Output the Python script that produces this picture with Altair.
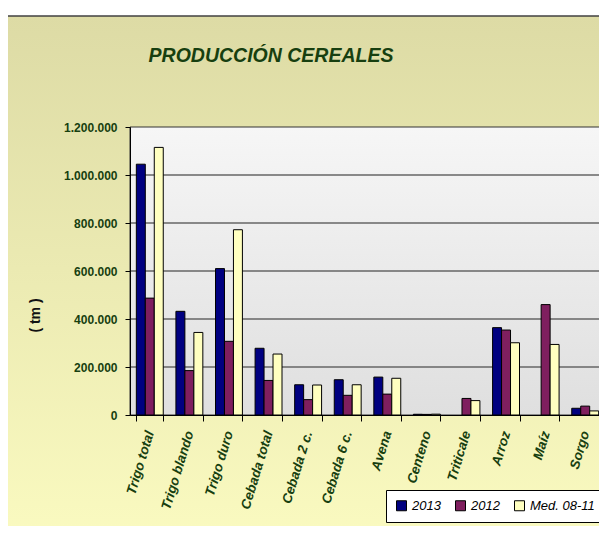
import altair as alt
import pandas as pd

categories = ["Trigo total", "Trigo blando", "Trigo duro", "Cebada total", "Cebada 2 c.",
              "Cebada 6 c.", "Avena", "Centeno", "Triticale", "Arroz", "Maíz", "Sorgo"]
series = ["2013", "2012", "Med. 08-11"]
v2013 = [1045000, 432000, 610000, 278000, 126000, 147000, 158000, 3000, 0, 364000, 0, 28000]
v2012 = [487000, 185000, 307000, 144000, 64000, 82000, 87000, 2500, 69000, 354000, 460000, 37000]
vmed = [1115000, 344000, 772000, 254000, 125000, 126000, 153000, 3500, 60000, 301000, 294000, 17000]
colors = ["#000080", "#7F1F5F", "#FFFFC0"]
y_ticks = [0, 200000, 400000, 600000, 800000, 1000000, 1200000]
title_text = "PRODUCCIÓN CEREALES"
y_title = "( tm )"

rows = []
for i, c in enumerate(categories):
    for s, vals in zip(series, [v2013, v2012, vmed]):
        rows.append({"cat": c, "serie": s, "value": vals[i]})
df = pd.DataFrame(rows)
grid_df = pd.DataFrame({"v": y_ticks[1:-1]})
one = pd.DataFrame({"k": [0]})

W, H = 475, 288
PAD_L, PAD_T = 122, 119
SVG_W, SVG_H = 591, 518
GREEN = "#173f10"
FONT = "Liberation Sans"
ydom = [0, 1200000]

yaxis = alt.Axis(values=y_ticks,
                 labelExpr="replace(format(datum.value, ','), regexp(',', 'g'), '.')",
                 title=y_title, titleFont=FONT, titleFontSize=14, titleFontWeight="bold",
                 titleColor="#111111", titleX=-95, titleY=188, titleAngle=270,
                 titleBaseline="middle", titleAlign="center",
                 labelFont=FONT, labelFontSize=12, labelFontWeight="bold",
                 labelColor=GREEN, tickSize=5, labelPadding=8,
                 domainColor="black", tickColor="black", grid=False, zindex=1)
yscale = alt.Scale(domain=ydom, nice=False)

outer_bg = alt.Chart(one).mark_rect(
    fill=alt.Gradient(gradient="linear", x1=0, x2=0, y1=0, y2=1,
                      stops=[alt.GradientStop(color="#DDDBA5", offset=0),
                             alt.GradientStop(color="#FAFAC0", offset=1)])
).encode(x=alt.value(-125), x2=alt.value(480), y=alt.value(-111), y2=alt.value(412))

topline = alt.Chart(one).mark_rule(color="#404040", strokeWidth=1.5).encode(
    x=alt.value(-125), x2=alt.value(480), y=alt.value(-111))

plot_bg = alt.Chart(one).mark_rect(
    fill=alt.Gradient(gradient="linear", x1=0, x2=0, y1=0, y2=1,
                      stops=[alt.GradientStop(color="#F6F6F6", offset=0),
                             alt.GradientStop(color="#DFDFDF", offset=1)]),
    stroke="#333333", strokeWidth=1
).encode(x=alt.value(0), x2=alt.value(W), y=alt.value(0), y2=alt.value(H))

grid = alt.Chart(grid_df).mark_rule(color="#666666", strokeWidth=1.5).encode(
    y=alt.Y("v:Q", scale=yscale, axis=yaxis),
    x=alt.value(0), x2=alt.value(W))

bars = alt.Chart(df).transform_filter("datum.value > 0").mark_bar(
    stroke="black", strokeWidth=1
).encode(
    x=alt.X("cat:N", sort=categories,
            scale=alt.Scale(paddingInner=0.32, paddingOuter=0.16),
            axis=alt.Axis(title=None, labelAngle=-73, labelFont=FONT, labelFontSize=13.5,
                          labelFontWeight="bold", labelFontStyle="italic", labelColor=GREEN,
                          tickBand="extent", tickSize=6, tickColor="black", domainColor="black",
                          labelPadding=10, labelAlign="right", labelBaseline="middle",
                          grid=False, zindex=1)),
    xOffset=alt.XOffset("serie:N", sort=series, scale=alt.Scale(paddingInner=0, paddingOuter=0)),
    y=alt.Y("value:Q", scale=yscale, axis=yaxis),
    color=alt.Color("serie:N", sort=series, scale=alt.Scale(domain=series, range=colors),
                    legend=alt.Legend(title=None, orient="none", legendX=256, legendY=363,
                                      direction="horizontal", fillColor="white",
                                      strokeColor="black", padding=9, symbolType="square",
                                      symbolSize=100, symbolStrokeColor="black",
                                      symbolStrokeWidth=1, labelFont=FONT, labelFontSize=13,
                                      labelFontStyle="italic", labelColor="black",
                                      columnPadding=12, labelOffset=4, symbolOpacity=1)),
)

title = alt.Chart(one).mark_text(
    font=FONT, fontSize=19.5, fontWeight="bold", fontStyle="italic", color=GREEN,
    align="center", baseline="alphabetic"
).encode(x=alt.value(141), y=alt.value(-65.5), text=alt.value(title_text))

chart = alt.layer(outer_bg, topline, plot_bg, grid, bars, title).properties(
    width=W, height=H,
    padding={"left": PAD_L, "top": PAD_T, "right": SVG_W - PAD_L - W, "bottom": SVG_H - PAD_T - H},
    autosize=alt.AutoSizeParams(type="none"),
    background="white",
).configure_view(stroke=None)

chart.save("out.html", embed_options={"renderer": "svg", "actions": False})
